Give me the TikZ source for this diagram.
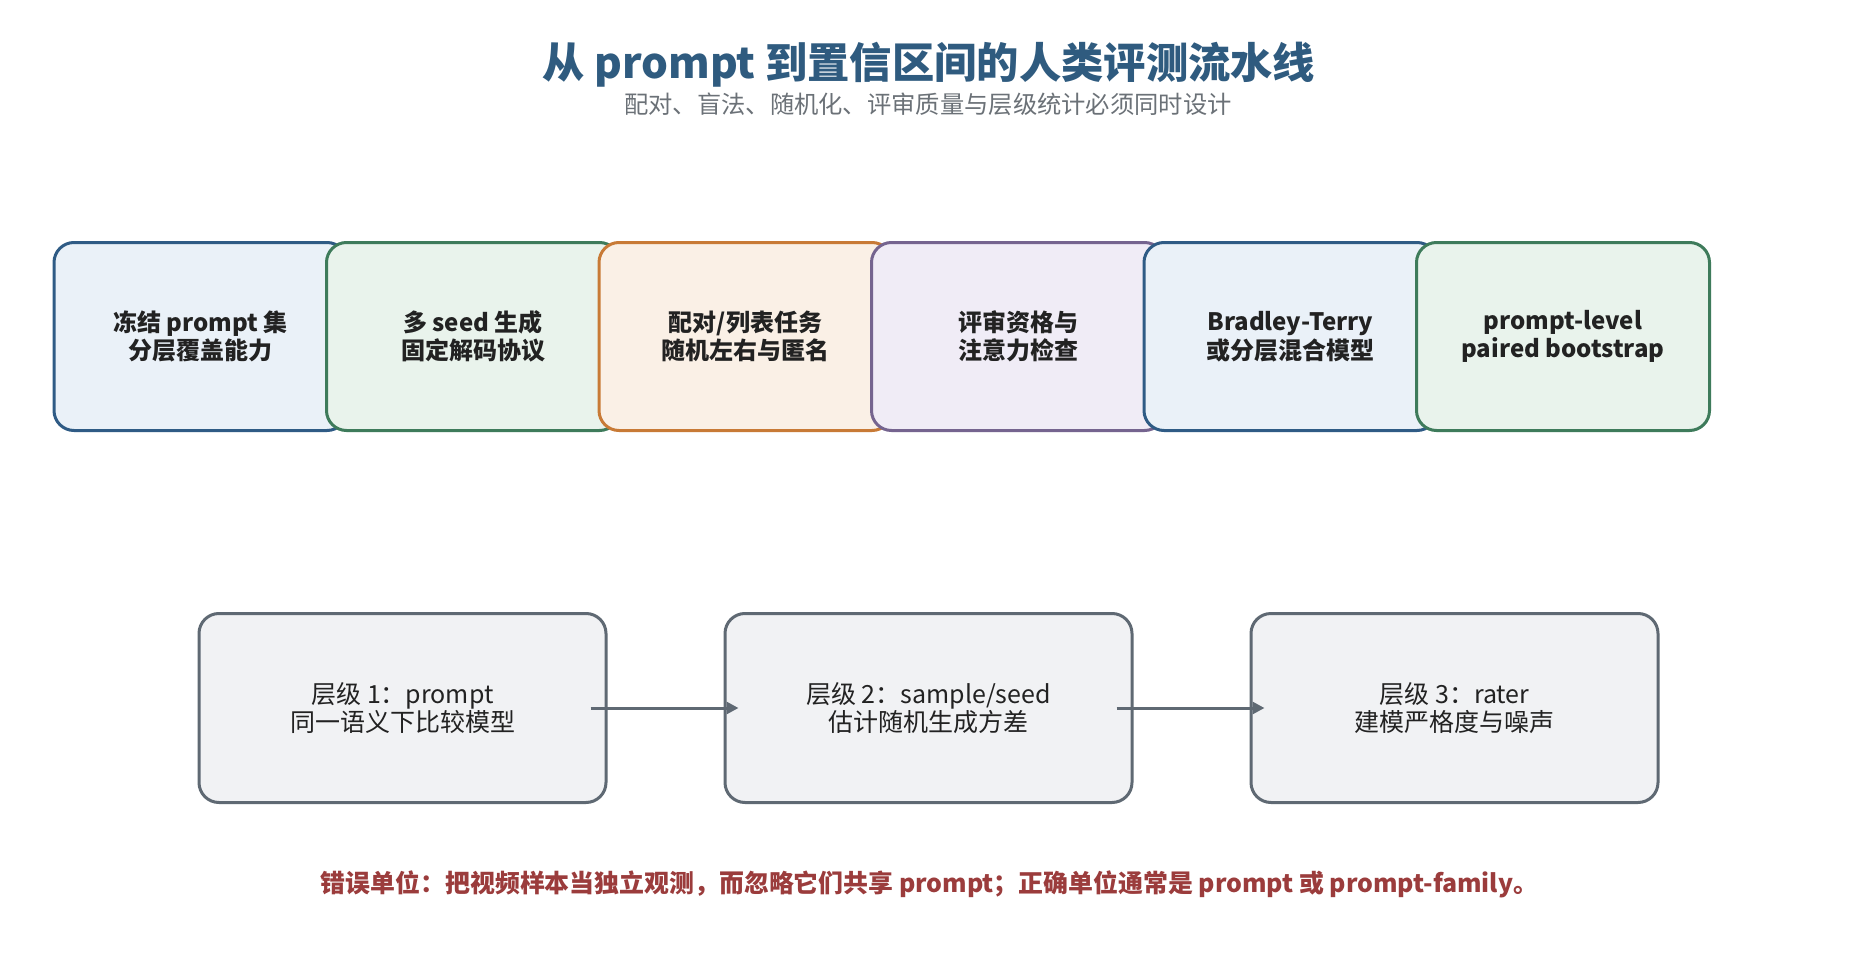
\documentclass[tikz,border=0pt]{standalone}
\usepackage{fontspec}
\setmainfont{Noto Sans CJK SC}
\usetikzlibrary{arrows.meta,positioning,backgrounds}

\definecolor{titleblue}{HTML}{2F5B7F}
\definecolor{subgray}{HTML}{6B7177}
\definecolor{bluedraw}{HTML}{2F5B85}
\definecolor{bluefill}{HTML}{EAF1F8}
\definecolor{greendraw}{HTML}{3E7B5B}
\definecolor{greenfill}{HTML}{E9F3EC}
\definecolor{orangedraw}{HTML}{C87A36}
\definecolor{orangefill}{HTML}{FAF0E6}
\definecolor{purpledraw}{HTML}{75648F}
\definecolor{purplefill}{HTML}{F0ECF6}
\definecolor{levelgray}{HTML}{5F6973}
\definecolor{levelfill}{HTML}{F1F2F4}
\definecolor{warnred}{HTML}{9B3C3C}
\definecolor{ink}{HTML}{222222}

\tikzset{
  stage/.style={draw=#1draw, fill=#1fill, line width=3pt, rounded corners=20pt,
    minimum width=293pt, minimum height=188pt, align=center, text=ink,
    font=\fontsize{24}{28.5}\selectfont\bfseries},
  level/.style={draw=levelgray, fill=levelfill, line width=3pt, rounded corners=20pt,
    minimum width=407pt, minimum height=189pt, align=center, text=ink,
    font=\fontsize{25}{28.5}\selectfont},
  flow/.style={-{Triangle[length=12pt,width=12pt]}, line width=3pt, draw=levelgray}
}

\begin{document}
\begin{tikzpicture}[x=1pt,y=-1pt]
\useasboundingbox[fill=white] (0,0) rectangle (1856,971);

% title
\node[font=\fontsize{42.3}{46}\selectfont\bfseries, text=titleblue] (title) at (929,65)
  {从 prompt 到置信区间的人类评测流水线};
\node[font=\fontsize{24.3}{28}\selectfont, text=subgray] (subtitle) at (928,104)
  {配对、盲法、随机化、评审质量与层级统计必须同时设计};

% pipeline stages
\foreach \c/\t [count=\n] in {blue/{冻结 prompt 集\\分层覆盖能力},
    green/{多 seed 生成\\固定解码协议},
    orange/{配对/列表任务\\随机左右与匿名},
    purple/{评审资格与\\注意力检查},
    blue/{Bradley-Terry\\或分层混合模型},
    green/{prompt-level\\paired bootstrap}} {
  \node[stage=\c] (s\n) at ({200.5+272.5*(\n-1)},336.5) {\t};
}
\begin{scope}[on background layer]
\foreach \a/\b in {s1/s2,s2/s3,s3/s4,s4/s5,s5/s6} {
  \draw[flow] (\a.east) -- (\b.west);
}
\end{scope}

% levels
\node[level] (l1) at (402.5,708) {层级 1：prompt\\同一语义下比较模型};
\node[level, right=116pt of l1] (l2) {层级 2：sample/seed\\估计随机生成方差};
\node[level, right=116pt of l2] (l3) {层级 3：rater\\建模严格度与噪声};
\draw[flow] ([xshift=-17pt]l1.east) -- ([xshift=15pt]l2.west);
\draw[flow] ([xshift=-17pt]l2.east) -- ([xshift=15pt]l3.west);

% note
\node[font=\fontsize{24.9}{28}\selectfont\bfseries, text=warnred] (note) at (929.5,884)
  {错误单位：把视频样本当独立观测，而忽略它们共享 prompt；正确单位通常是 prompt 或 prompt-family。};
\end{tikzpicture}
\end{document}
